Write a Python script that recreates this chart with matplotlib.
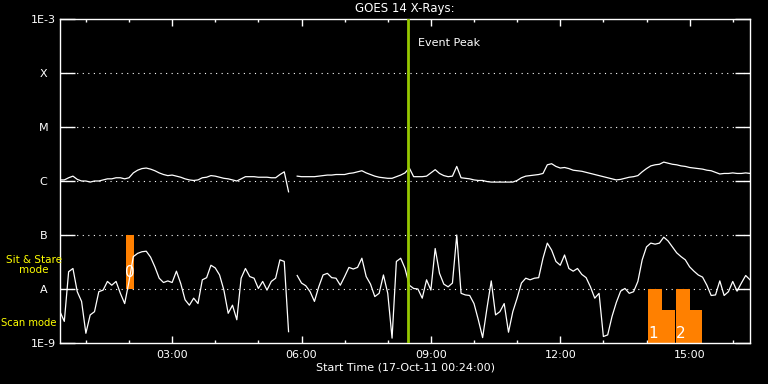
import numpy as np
import matplotlib
matplotlib.use('Agg')
import matplotlib.pyplot as plt

# time grid: 00:24 start, 6-minute samples (hours)
t_start = 0.4
step = 0.1

# GOES 14 long channel (1-8 A), log10 W/m^2
long_log = [
    -5.98, -5.98, -5.94, -5.91, -5.97, -6.00, -6.00, -6.02, -6.00, -6.00,
    -5.98, -5.96, -5.96, -5.94, -5.94, -5.96, -5.94, -5.85, -5.80, -5.77,
    -5.76, -5.78, -5.81, -5.85, -5.88, -5.90, -5.89, -5.91, -5.93, -5.96,
    -5.98, -5.99, -5.98, -5.94, -5.93, -5.90, -5.91, -5.93, -5.95, -5.96,
    -5.98, -6.00, -5.96, -5.92, -5.92, -5.92, -5.93, -5.93, -5.93, -5.94,
    -5.94, -5.88, -5.83, -6.20, np.nan, -5.91, -5.92, -5.92, -5.92, -5.92,
    -5.91, -5.90, -5.89, -5.89, -5.88, -5.88, -5.88, -5.86, -5.85, -5.83,
    -5.81, -5.85, -5.88, -5.91, -5.93, -5.94, -5.95, -5.95, -5.92, -5.89,
    -5.85, -5.76, -5.92, -5.92, -5.92, -5.91, -5.85, -5.79, -5.86, -5.90,
    -5.92, -5.91, -5.73, -5.94, -5.95, -5.96, -5.98, -5.99, -5.99, -6.01,
    -6.02, -6.02, -6.02, -6.02, -6.02, -6.02, -5.99, -5.94, -5.91, -5.90,
    -5.89, -5.88, -5.86, -5.70, -5.68, -5.73, -5.76, -5.75, -5.77, -5.80,
    -5.81, -5.82, -5.84, -5.86, -5.88, -5.90, -5.92, -5.94, -5.96, -5.98,
    -5.97, -5.95, -5.93, -5.92, -5.90, -5.83, -5.77, -5.72, -5.70, -5.69,
    -5.65, -5.67, -5.69, -5.70, -5.72, -5.73, -5.75, -5.76, -5.77, -5.78,
    -5.80, -5.81, -5.84, -5.87, -5.86, -5.86, -5.85, -5.86, -5.86, -5.85,
    -5.86,
]

# GOES 14 short channel (0.5-4 A), log10 W/m^2
short_log = [
    -8.42, -8.60, -7.68, -7.62, -8.05, -8.23, -8.82, -8.48, -8.42, -8.05,
    -8.02, -7.86, -7.93, -7.86, -8.08, -8.27, -7.86, -7.40, -7.34, -7.31,
    -7.30, -7.41, -7.59, -7.80, -7.88, -7.85, -7.88, -7.67, -7.90, -8.20,
    -8.30, -8.17, -8.27, -7.83, -7.79, -7.56, -7.61, -7.74, -8.02, -8.45,
    -8.30, -8.57, -7.80, -7.62, -7.77, -7.80, -7.99, -7.86, -8.02, -7.86,
    -7.80, -7.46, -7.49, -8.79, np.nan, -7.75, -7.89, -7.94, -8.05, -8.23,
    -7.96, -7.74, -7.71, -7.79, -7.80, -7.93, -7.77, -7.60, -7.63, -7.60,
    -7.43, -7.77, -7.91, -8.14, -8.08, -7.74, -8.08, -8.91, -7.49, -7.43,
    -7.62, -7.93, -7.99, -8.00, -8.17, -7.83, -8.02, -7.25, -7.71, -7.91,
    -7.96, -7.89, -7.00, -8.08, -8.11, -8.12, -8.27, -8.57, -8.90, -8.36,
    -7.85, -8.48, -8.42, -8.27, -8.80, -8.42, -8.17, -7.89, -7.80, -7.83,
    -7.80, -7.79, -7.43, -7.15, -7.28, -7.49, -7.56, -7.37, -7.62, -7.67,
    -7.62, -7.73, -7.79, -7.96, -8.17, -8.08, -8.88, -8.85, -8.51, -8.25,
    -8.04, -7.99, -8.08, -8.05, -7.86, -7.46, -7.22, -7.15, -7.17, -7.15,
    -7.04, -7.11, -7.22, -7.33, -7.40, -7.46, -7.59, -7.67, -7.74, -7.78,
    -7.93, -8.12, -8.11, -7.85, -8.12, -8.05, -7.86, -8.04, -7.89, -7.75,
    -7.83,
]

# observing mode blocks (hours, flux)
mode_start = [1.93, 14.03, 14.36, 14.68, 15.01]
mode_end = [2.12, 14.36, 14.66, 15.01, 15.29]
mode_low = [1e-8, 1e-9, 1e-9, 1e-9, 1e-9]
mode_high = [1e-7, 1e-8, 4.1e-9, 1e-8, 4.1e-9]
mode_labels = ['0', '1', '2']
mode_label_x = [2.02, 14.16, 14.80]
mode_label_y = [2.0e-8, 1.5e-9, 1.5e-9]

event_peak = 8.46

class_vals = [1e-9, 1e-8, 1e-7, 1e-6, 1e-5, 1e-4, 1e-3]
class_names = ['1E-9', 'A', 'B', 'C', 'M', 'X', '1E-3']
hour_ticks = [3, 6, 9, 12, 15]
hour_labels = ['03:00', '06:00', '09:00', '12:00', '15:00']

times = t_start + step * np.arange(len(short_log))
long_flux = 10.0 ** np.array(long_log)
short_flux = 10.0 ** np.array(short_log)

fig = plt.figure(figsize=(7.68, 3.84), dpi=100, facecolor='black')
ax = fig.add_axes([60 / 768, 1 - 343 / 384, 690 / 768, 324 / 384])
ax.set_facecolor('black')
ax.set_yscale('log')
ax.set_xlim(0.4, 16.4)
ax.set_ylim(1e-9, 1e-3)

# dotted class levels
for v in class_vals[1:-1]:
    ax.axhline(v, color='white', lw=0.8, ls=(0, (1, 4)), zorder=1)

# mode blocks
widths = [e - s for s, e in zip(mode_start, mode_end)]
heights = [h - l for l, h in zip(mode_low, mode_high)]
ax.bar(mode_start, heights, width=widths, bottom=mode_low, align='edge',
       color='#ff8000', edgecolor='none', zorder=2)

ax.plot(times, long_flux, color='white', lw=0.9, zorder=3)
ax.plot(times, short_flux, color='white', lw=0.9, zorder=3)

for lab, x, y in zip(mode_labels, mode_label_x, mode_label_y):
    ax.text(x, y, lab, color='white', fontsize=11, ha='center', va='center', zorder=4)

ax.axvline(event_peak, color='#96c800', lw=2, zorder=5)
ax.text(event_peak + 0.25, 10 ** -3.45, 'Event Peak', color='white', fontsize=8,
        ha='left', va='center')

# axes styling
for s in ax.spines.values():
    s.set_color('white')
    s.set_linewidth(1)

ax.set_yticks(class_vals)
ax.set_yticklabels(class_names)
ax.yaxis.set_minor_locator(matplotlib.ticker.NullLocator())
ax.tick_params(axis='y', which='major', direction='in', length=11, width=1,
               color='white', labelcolor='white', labelsize=8, left=True, right=True, pad=12)
for t in ax.get_yticklabels():
    t.set_ha('center')

ax.set_xticks(hour_ticks)
ax.set_xticklabels(hour_labels)
ax.set_xticks(np.arange(1, 17), minor=True)
ax.tick_params(axis='x', which='major', direction='in', length=5, width=1,
               color='white', labelcolor='white', labelsize=8, top=True, bottom=True, pad=5)
ax.tick_params(axis='x', which='minor', direction='in', length=2.5, width=1,
               color='white', top=True, bottom=True)

ax.set_xlabel('Start Time (17-Oct-11 00:24:00)', color='white', fontsize=8, labelpad=2)
ax.set_title('GOES 14 X-Rays:', color='white', fontsize=8.5, pad=5)

fig.text(34 / 768, 1 - 265 / 384, 'Sit & Stare\nmode', color='yellow', fontsize=7.5,
         ha='center', va='center', linespacing=1.1)
fig.text(29 / 768, 1 - 323 / 384, 'Scan mode', color='yellow', fontsize=7.2,
         ha='center', va='center')

fig.savefig('out.png', dpi=100, facecolor='black')
